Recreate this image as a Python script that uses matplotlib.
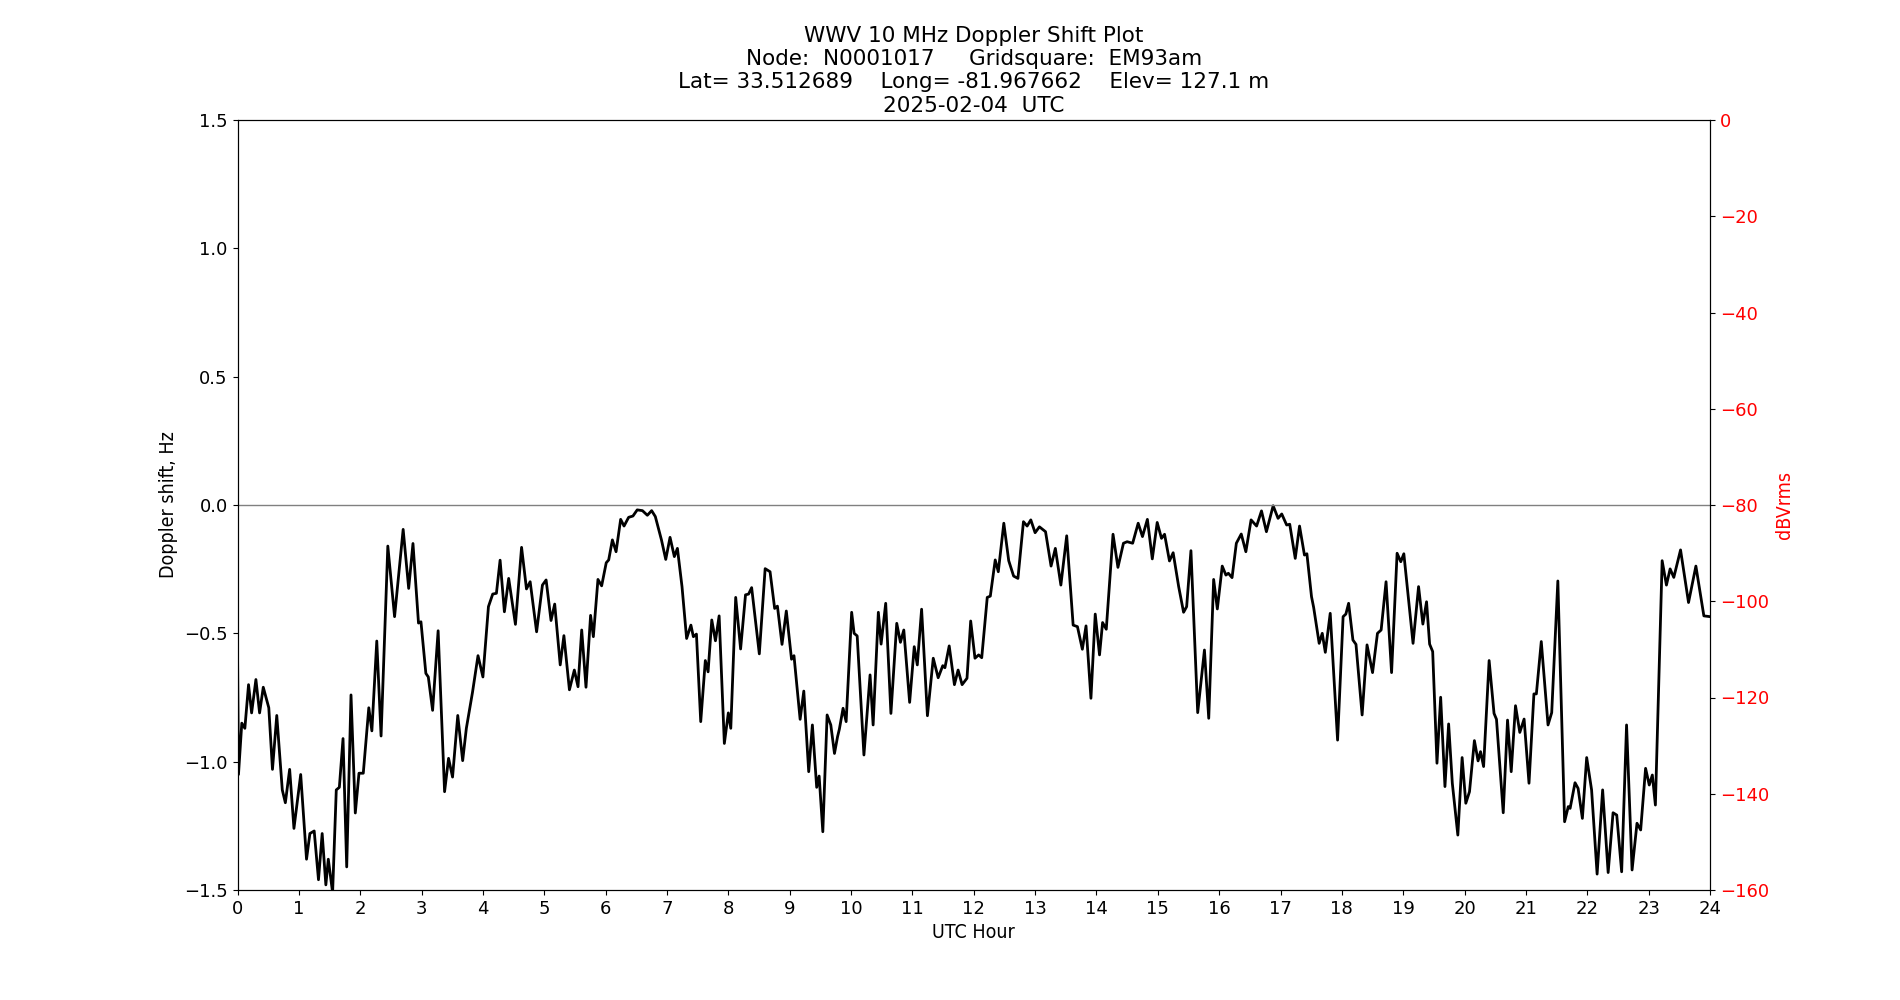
import matplotlib
matplotlib.use('Agg')
import numpy as np
from matplotlib import pyplot as plt

# doppler trace (UTC hour, Hz)
hours = [0.0, 0.016, 0.07, 0.12, 0.18, 0.23, 0.30, 0.36, 0.42, 0.51, 0.57, 0.64, 0.73, 0.78, 0.85, 0.92,
         1.03, 1.125, 1.18, 1.25, 1.32, 1.38, 1.44, 1.48, 1.55, 1.61, 1.66, 1.72, 1.78, 1.85, 1.92, 1.98,
         2.05, 2.14, 2.19, 2.27, 2.34, 2.45, 2.56, 2.70, 2.79, 2.86, 2.95, 2.99, 3.07, 3.11, 3.18, 3.27,
         3.375, 3.44, 3.505, 3.59, 3.67, 3.73, 3.83, 3.92, 4.0, 4.09, 4.16, 4.22, 4.28, 4.35, 4.42, 4.53,
         4.63, 4.71, 4.77, 4.875, 4.97, 5.03, 5.11, 5.17, 5.26, 5.32, 5.41, 5.49, 5.55, 5.61, 5.68, 5.755,
         5.80, 5.875, 5.935, 6.01, 6.05, 6.11, 6.17, 6.245, 6.30, 6.375, 6.445, 6.515, 6.60, 6.68, 6.75,
         6.81, 6.91, 6.98, 7.05, 7.12, 7.17, 7.245, 7.32, 7.39, 7.43, 7.48, 7.55, 7.625, 7.67, 7.73, 7.79,
         7.85, 7.935, 8.0, 8.04, 8.12, 8.20, 8.28, 8.33, 8.38, 8.505, 8.60, 8.68, 8.755, 8.80, 8.875, 8.945,
         9.03, 9.07, 9.17, 9.23, 9.31, 9.37, 9.44, 9.48, 9.54, 9.61, 9.67, 9.73, 9.78, 9.81, 9.87, 9.92,
         10.01, 10.05, 10.10, 10.21, 10.31, 10.36, 10.445, 10.49, 10.565, 10.65, 10.745, 10.805, 10.86,
         10.955, 11.03, 11.08, 11.15, 11.245, 11.34, 11.42, 11.495, 11.53, 11.60, 11.685, 11.745, 11.81,
         11.89, 11.95, 12.02, 12.08, 12.13, 12.22, 12.27, 12.35, 12.40, 12.49, 12.57, 12.65, 12.72, 12.81,
         12.87, 12.93, 13.0, 13.07, 13.17, 13.26, 13.33, 13.42, 13.515, 13.62, 13.69, 13.77, 13.83, 13.91,
         13.98, 14.05, 14.10, 14.16, 14.27, 14.35, 14.44, 14.50, 14.59, 14.68, 14.75, 14.83, 14.91, 14.99,
         15.06, 15.11, 15.19, 15.25, 15.34, 15.42, 15.47, 15.54, 15.65, 15.76, 15.83, 15.91, 15.97, 16.05,
         16.11, 16.15, 16.21, 16.28, 16.36, 16.435, 16.52, 16.61, 16.69, 16.77, 16.88, 16.96, 17.02, 17.10,
         17.15, 17.24, 17.31, 17.39, 17.43, 17.505, 17.54, 17.63, 17.68, 17.73, 17.81, 17.93, 18.02, 18.065,
         18.11, 18.18, 18.23, 18.33, 18.41, 18.50, 18.58, 18.64, 18.72, 18.81, 18.90, 18.96, 19.01, 19.16,
         19.25, 19.32, 19.38, 19.43, 19.48, 19.55, 19.61, 19.68, 19.74, 19.80, 19.89, 19.96, 20.02, 20.08,
         20.16, 20.22, 20.26, 20.31, 20.40, 20.48, 20.52, 20.63, 20.70, 20.76, 20.83, 20.90, 20.97, 21.05,
         21.13, 21.17, 21.25, 21.36, 21.42, 21.52, 21.63, 21.69, 21.72, 21.80, 21.85, 21.92, 21.99, 22.07,
         22.16, 22.25, 22.34, 22.42, 22.48, 22.56, 22.64, 22.73, 22.81, 22.87, 22.95, 23.01, 23.06, 23.11,
         23.22, 23.29, 23.35, 23.41, 23.52, 23.65, 23.77, 23.90, 24.0]
doppler = [-0.55, -1.05, -0.85, -0.87, -0.70, -0.81, -0.68, -0.81, -0.71, -0.79, -1.03, -0.82, -1.11, -1.16,
           -1.03, -1.26, -1.05, -1.38, -1.28, -1.27, -1.46, -1.28, -1.48, -1.38, -1.51, -1.11, -1.10, -0.91,
           -1.41, -0.74, -1.20, -1.045, -1.045, -0.79, -0.88, -0.53, -0.90, -0.16, -0.435, -0.095, -0.325,
           -0.15, -0.46, -0.455, -0.656, -0.67, -0.80, -0.49, -1.117, -0.987, -1.06, -0.82, -0.996, -0.87,
           -0.73, -0.587, -0.67, -0.396, -0.347, -0.344, -0.215, -0.416, -0.286, -0.465, -0.165, -0.327,
           -0.299, -0.494, -0.312, -0.292, -0.45, -0.386, -0.623, -0.509, -0.72, -0.643, -0.708, -0.487,
           -0.71, -0.43, -0.513, -0.29, -0.315, -0.225, -0.214, -0.136, -0.182, -0.056, -0.082, -0.048,
           -0.043, -0.019, -0.022, -0.04, -0.022, -0.045, -0.136, -0.212, -0.126, -0.201, -0.169, -0.318,
           -0.52, -0.468, -0.513, -0.503, -0.844, -0.606, -0.65, -0.448, -0.529, -0.432, -0.929, -0.81,
           -0.87, -0.36, -0.561, -0.35, -0.347, -0.322, -0.58, -0.248, -0.26, -0.403, -0.394, -0.543, -0.413,
           -0.601, -0.587, -0.835, -0.725, -1.039, -0.857, -1.10, -1.056, -1.273, -0.818, -0.857, -0.968,
           -0.903, -0.873, -0.792, -0.844, -0.418, -0.50, -0.51, -0.974, -0.662, -0.857, -0.418, -0.542,
           -0.383, -0.812, -0.461, -0.535, -0.487, -0.769, -0.552, -0.623, -0.406, -0.821, -0.597, -0.673,
           -0.626, -0.634, -0.549, -0.70, -0.643, -0.70, -0.675, -0.452, -0.597, -0.584, -0.595, -0.36,
           -0.355, -0.214, -0.26, -0.071, -0.217, -0.277, -0.286, -0.065, -0.082, -0.058, -0.108, -0.085,
           -0.104, -0.238, -0.169, -0.312, -0.12, -0.468, -0.474, -0.562, -0.471, -0.753, -0.425, -0.584,
           -0.458, -0.484, -0.114, -0.243, -0.149, -0.143, -0.149, -0.071, -0.123, -0.056, -0.21, -0.068,
           -0.13, -0.114, -0.218, -0.186, -0.318, -0.418, -0.396, -0.178, -0.809, -0.565, -0.831, -0.29,
           -0.405, -0.238, -0.273, -0.266, -0.283, -0.149, -0.113, -0.182, -0.058, -0.082, -0.023, -0.104,
           -0.003, -0.052, -0.035, -0.078, -0.075, -0.208, -0.082, -0.195, -0.19, -0.357, -0.399, -0.539,
           -0.50, -0.574, -0.422, -0.916, -0.435, -0.425, -0.383, -0.526, -0.543, -0.818, -0.545, -0.653,
           -0.50, -0.487, -0.299, -0.653, -0.188, -0.221, -0.19, -0.539, -0.318, -0.464, -0.377, -0.542,
           -0.571, -1.006, -0.749, -1.097, -0.853, -1.084, -1.286, -0.984, -1.162, -1.117, -0.918, -0.997,
           -0.961, -1.019, -0.606, -0.812, -0.835, -1.199, -0.838, -1.039, -0.782, -0.886, -0.834, -1.084,
           -0.736, -0.736, -0.532, -0.857, -0.809, -0.296, -1.234, -1.175, -1.182, -1.082, -1.104, -1.221,
           -0.984, -1.11, -1.438, -1.11, -1.432, -1.199, -1.208, -1.429, -0.857, -1.422, -1.24, -1.266,
           -1.026, -1.091, -1.052, -1.169, -0.217, -0.312, -0.249, -0.282, -0.175, -0.38, -0.238, -0.432,
           -0.435]

title_lines = ['WWV 10 MHz Doppler Shift Plot',
               'Node:  N0001017     Gridsquare:  EM93am',
               'Lat= 33.512689    Long= -81.967662    Elev= 127.1 m',
               '2025-02-04  UTC']
hour_ticks = list(range(0, 25))

# condensed face for the axis labels
cond = dict(family='DejaVu Sans', stretch='condensed')

fig = plt.figure(figsize=(19, 10), dpi=100)
ax = fig.add_subplot(111)
ax.plot(hours, doppler, color='black', linewidth=2)
ax.axhline(0, color='gray', linewidth=1)
ax.set_xlim(0, 24)
ax.set_ylim(-1.5, 1.5)
ax.set_xticks(hour_ticks)
ax.set_yticks([-1.5, -1.0, -0.5, 0.0, 0.5, 1.0, 1.5])
ax.tick_params(labelsize=13)
ax.set_xlabel('UTC Hour', fontsize=14, **cond)
ax.set_ylabel('Doppler shift, Hz', fontsize=14, **cond)
ax.set_title('\n'.join(title_lines), fontsize=15.5, linespacing=1.2)

ax2 = ax.twinx()
ax2.set_ylim(-160, 0)
ax2.set_yticks(range(-160, 1, 20))
ax2.tick_params(labelsize=13, labelcolor='red')
ax2.set_ylabel('dBVrms', color='red', fontsize=14, **cond)

plt.savefig('out.png')
